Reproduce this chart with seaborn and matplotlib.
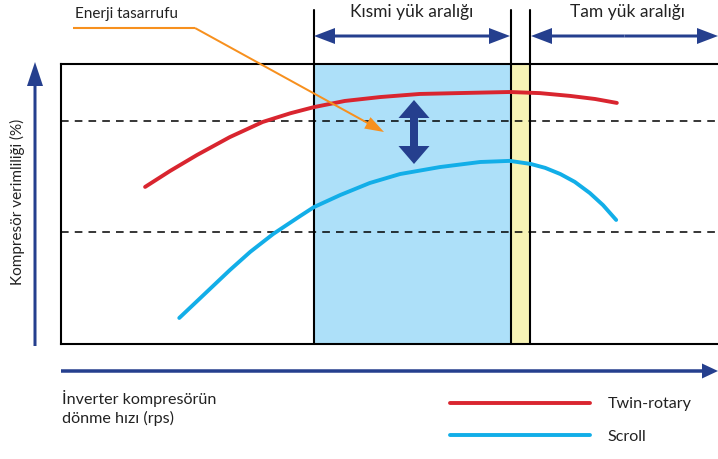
import matplotlib
matplotlib.use("Agg")
import matplotlib.pyplot as plt
import pandas as pd
import seaborn as sns

# Curve readings (speed in arbitrary rps units 0-100, efficiency in % of box height)
twin_speed = [12.8, 16.6, 20.7, 25.7, 30.7, 34.9, 38.5, 43.2, 48.6, 54.6, 60.3, 68.3, 72.9, 77.5, 81.3, 84.6]
twin_eff = [56.1, 61.8, 67.5, 73.9, 79.3, 82.4, 84.6, 86.8, 88.2, 89.3, 89.6, 90.0, 89.6, 88.6, 87.5, 86.1]
scroll_speed = [18.0, 21.2, 25.7, 28.8, 32.3, 36.4, 38.5, 42.5, 47.0, 51.6, 57.7, 63.8, 68.3, 71.5,
                73.7, 76.0, 78.2, 80.5, 82.5, 84.5]
scroll_eff = [9.3, 16.4, 26.4, 32.9, 39.3, 45.7, 48.9, 53.2, 57.5, 60.7, 63.2, 65.0, 65.4, 64.3,
              62.9, 60.7, 57.9, 53.9, 49.6, 44.3]
series_names = ["Twin-rotary", "Scroll"]
region_edges = [38.5, 68.5, 71.4]
ref_levels = [79.6, 40.0]
region_labels = ["Kısmi yük aralığı", "Tam yük aralığı"]

RED = "#D9252F"
CYAN = "#12AEE8"
NAVY = "#253F8E"
ORANGE = "#F7901E"
TEXT = "#222222"

df = pd.concat([
    pd.DataFrame({"speed": twin_speed, "eff": twin_eff, "type": series_names[0]}),
    pd.DataFrame({"speed": scroll_speed, "eff": scroll_eff, "type": series_names[1]}),
])

sns.set_style("white")
plt.rcParams["font.family"] = ["Lato", "DejaVu Sans"]

W, H = 718, 459
fig = plt.figure(figsize=(W / 100, H / 100), dpi=100)
ax = fig.add_axes([61 / W, (H - 344) / H, 657 / W, 280 / H])
ax.set_xlim(0, 100)
ax.set_ylim(0, 100)

# shaded load ranges
ax.axvspan(region_edges[0], region_edges[1], color="#ADE0F9", zorder=0, lw=0)
ax.axvspan(region_edges[1], region_edges[2], color="#F7F3B5", zorder=0, lw=0)
for e in region_edges:
    ax.plot([e, e], [0, 119.3], color="black", lw=1.5, clip_on=False, zorder=3)
for lv in ref_levels:
    ax.axhline(lv, color="black", lw=1.1, ls=(0, (5, 4)), zorder=1)

sns.lineplot(data=df, x="speed", y="eff", hue="type", palette=[RED, CYAN],
             sort=False, linewidth=2.8, ax=ax, zorder=4, solid_joinstyle="round")

ax.set_xticks([])
ax.set_yticks([])
ax.set_xlabel("")
ax.set_ylabel("")
for side in ["left", "top", "bottom"]:
    ax.spines[side].set_color("black")
    ax.spines[side].set_linewidth(1.5)
ax.spines["right"].set_visible(False)

ax.legend(loc="upper left", bbox_to_anchor=(450 / W, 1 - 397 / H),
          bbox_transform=fig.transFigure, frameon=False, handlelength=8.7,
          handletextpad=1.1, labelspacing=1.15, fontsize=11.6, borderpad=0,
          borderaxespad=0)
for t in ax.get_legend().get_texts():
    t.set_color(TEXT)

# overlay in pixel coordinates for annotations
ov = fig.add_axes([0, 0, 1, 1])
ov.set_xlim(0, W)
ov.set_ylim(H, 0)
ov.axis("off")
ov.patch.set_visible(False)


def arrow(x0, y0, x1, y1, w, hw, hl, color=NAVY):
    ov.arrow(x0, y0, x1 - x0, y1 - y0, width=w, head_width=hw, head_length=hl,
             length_includes_head=True, color=color, lw=0)


def darrow(x0, y0, x1, y1, w, hw, hl, color=NAVY):
    mx, my = (x0 + x1) / 2, (y0 + y1) / 2
    arrow(mx, my, x0, y0, w, hw, hl, color)
    arrow(mx, my, x1, y1, w, hw, hl, color)


# region arrows
darrow(314, 36, 510, 36, 3, 16, 21)
darrow(531, 36, 718, 36, 3, 16, 21)
ov.text(412, 12, region_labels[0], ha="center", va="center", fontsize=12.5, color=TEXT)
ov.text(627, 12, region_labels[1], ha="center", va="center", fontsize=12.5, color=TEXT)

# vertical gap arrow
darrow(414, 100, 414, 164, 8, 31, 18)

# axis arrows
arrow(35, 346, 35, 62, 3, 16, 24)
arrow(61, 371, 718, 371, 3.5, 15, 16)

# energy saving pointer
ov.plot([73, 195], [28, 28], color=ORANGE, lw=1.5, solid_capstyle="butt")
arrow(195, 28, 384, 132, 2, 13, 19, color=ORANGE)
ov.text(75, 14, "Enerji tasarrufu", ha="left", va="center", fontsize=11, color=TEXT)

ov.text(17, 202, "Kompresör verimliliği (%)", rotation=90, ha="center", va="center",
        fontsize=11, color=TEXT)
ov.text(62, 408, "İnverter kompresörün\ndönme hızı (rps)", ha="left", va="center",
        fontsize=11.6, color=TEXT, linespacing=1.25)

fig.savefig("out.png", dpi=100)
